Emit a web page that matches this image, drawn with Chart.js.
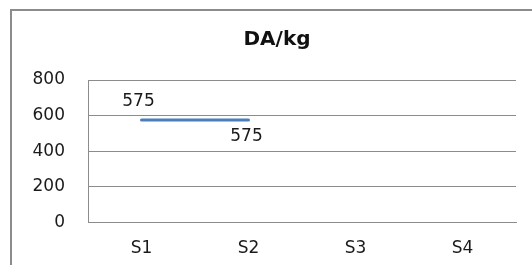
<!DOCTYPE html>
<html>
<head>
<meta charset="utf-8">
<script src="https://cdn.jsdelivr.net/npm/chart.js@4"></script>
<style>
html,body{margin:0;padding:0;background:#fff;overflow:hidden;}
#wrap{position:absolute;left:0;top:0;width:532px;height:265px;}
canvas{display:block;}
</style>
</head>
<body>
<div id="wrap"><canvas id="c" width="532" height="265" style="width:532px;height:265px"></canvas></div>
<script>
const categories = ['S1', 'S2', 'S3', 'S4'];
const values = [575, 575, null, null];
const yTicks = [0, 200, 400, 600, 800];
const chartTitle = 'DA/kg';

const frame = {
  id: 'frame',
  beforeDraw(chart) {
    const ctx = chart.ctx;
    ctx.save();
    ctx.fillStyle = '#fff';
    ctx.fillRect(0, 0, chart.width, chart.height);
    ctx.strokeStyle = '#8c8c8c';
    ctx.lineWidth = 2;
    ctx.beginPath();
    ctx.moveTo(11, 400);
    ctx.lineTo(11, 10);
    ctx.lineTo(532, 10);
    ctx.stroke();
    ctx.restore();
  }
};

const dataLabels = {
  id: 'dataLabels',
  afterDatasetsDraw(chart) {
    const ctx = chart.ctx;
    const meta = chart.getDatasetMeta(0);
    const offs = [[-3, -19], [-2, 16]];
    ctx.save();
    ctx.font = '17px "DejaVu Sans"';
    ctx.fillStyle = '#1a1a1a';
    ctx.textAlign = 'center';
    ctx.textBaseline = 'middle';
    meta.data.forEach((pt, i) => {
      const v = values[i];
      if (v === null || v === undefined) return;
      const o = offs[i % offs.length];
      ctx.fillText(String(v), pt.x + o[0], pt.y + o[1]);
    });
    ctx.restore();
  }
};

new Chart(document.getElementById('c'), {
  type: 'line',
  data: {
    labels: categories,
    datasets: [{
      data: values,
      borderColor: '#4a7ebb',
      borderWidth: 3,
      borderCapStyle: 'round',
      pointRadius: 0,
      fill: false,
      tension: 0,
      yAxisID: 'y'
    }]
  },
  options: {
    responsive: false,
    maintainAspectRatio: false,
    animation: false,
    devicePixelRatio: 1,
    layout: { padding: { left: 22, right: 0, top: 0, bottom: 6 } },
    plugins: {
      legend: { display: false },
      tooltip: { enabled: false },
      title: {
        display: true,
        text: chartTitle,
        color: '#111',
        font: { family: 'DejaVu Sans', size: 20, weight: 'bold' },
        padding: { top: 28, bottom: 28 }
      }
    },
    scales: {
      x: {
        offset: true,
        afterFit(s) { s.height = 36.5; },
        grid: { display: false, drawTicks: false },
        border: { display: true, color: '#8c8c8c', width: 1 },
        ticks: {
          color: '#1a1a1a',
          font: { family: 'DejaVu Sans', size: 17 },
          padding: 16,
          maxRotation: 0
        }
      },
      y: {
        min: 0,
        max: 800,
        afterFit(s) { s.width = 66; },
        afterBuildTicks(s) { s.ticks = yTicks.map(v => ({ value: v })); },
        grid: { color: '#8c8c8c', lineWidth: 1, drawTicks: false },
        border: { display: true, color: '#8c8c8c', width: 1 },
        ticks: {
          color: '#1a1a1a',
          font: { family: 'DejaVu Sans', size: 17 },
          padding: 23
        }
      },
      yr: {
        position: 'right',
        display: true,
        min: 0,
        max: 800,
        afterFit(s) { s.width = 16; },
        grid: { display: false, drawTicks: false },
        border: { display: false },
        ticks: { display: false }
      }
    }
  },
  plugins: [frame, dataLabels]
});
</script>
</body>
</html>
